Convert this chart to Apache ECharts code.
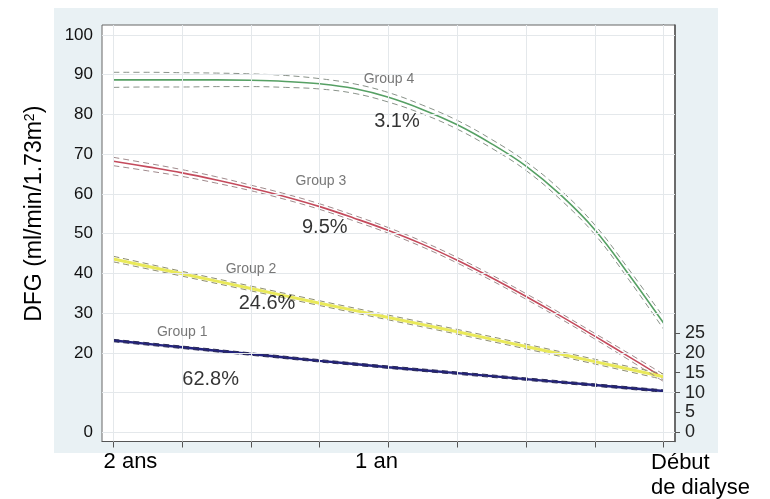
<!DOCTYPE html>
<html>
<head>
<meta charset="utf-8">
<script src="https://cdn.jsdelivr.net/npm/echarts@6/dist/echarts.min.js"></script>
<style>html,body{margin:0;padding:0;background:#fff;}#c{width:770px;height:499px;}</style>
</head>
<body>
<div id="c"></div>
<script>
// ---- data ----
const months = [-24,-22.5,-21,-19.5,-18,-16.5,-15,-13.5,-12,-10.5,-9,-7.5,-6,-4.5,-3,-1.5,0];
const quarterMonths = [-24,-21,-18,-15,-12,-9,-6,-3,0];

const group4 = [88.7,88.7,88.7,88.7,88.6,88.3,87.7,86.5,84.3,81.2,77.4,72.6,67.0,59.8,51.0,39.6,27.5];
const group4Upper = [90.6,90.6,90.5,90.4,90.2,89.8,89.0,87.7,85.5,82.3,78.5,73.7,68.1,61.0,52.2,40.9,29.0];
const group4Lower = [86.8,86.9,86.9,87.0,87.0,86.8,86.4,85.3,83.1,80.1,76.3,71.5,65.9,58.6,49.8,38.3,26.0];

const group3 = [68.2,66.8,65.3,63.5,61.5,59.3,56.8,53.9,50.8,47.3,43.3,38.9,34.2,29.3,24.2,19.0,13.7];
const group3Upper = [69.2,67.7,66.1,64.3,62.2,60.0,57.5,54.6,51.5,48.0,44.0,39.6,34.9,30.0,24.9,19.8,14.6];
const group3Lower = [67.1,65.8,64.4,62.7,60.8,58.6,56.1,53.2,50.1,46.6,42.6,38.2,33.5,28.6,23.5,18.2,12.8];

const group2 = [43.6,39.9,36.2,32.5,28.9,25.3,21.6,17.8,14.0];
const group2Upper = [44.3,40.5,36.8,33.1,29.5,25.9,22.2,18.4,14.7];
const group2Lower = [42.9,39.3,35.6,31.9,28.3,24.7,21.0,17.2,13.3];

const group1 = [23.1,21.4,19.7,18.0,16.4,14.9,13.4,11.9,10.4];
const group1Upper = [23.4,21.7,20.0,18.3,16.7,15.2,13.7,12.2,10.7];
const group1Lower = [22.8,21.1,19.4,17.7,16.1,14.6,13.1,11.6,10.1];

const groupNames = ['Group 4','Group 3','Group 2','Group 1'];
const groupNameX = [-11.98,-14.95,-18.0,-21.0];
const groupNameY = [88.9,63.3,41.0,25.1];
const shareLabels = ['3.1%','9.5%','24.6%','62.8%'];
const shareX = [-11.63,-14.78,-17.3,-19.76];
const shareY = [78.1,51.6,32.4,13.3];

const leftTicks = [0,20,30,40,50,60,70,80,90,100];
const rightTicks = [0,5,10,15,20,25];
const gridY = [0,10,20,30,40,50,60,70,80,90,100];
const xTicks = [-24,-21,-18,-15,-12,-9,-6,-3,0];
const xLabelValues = [-24,-12,0];
const xLabelTexts = {'-24':'{l|2 ans}','-12':'{m|1 an}','0':'{r|Début}\n{r|de dialyse}'};

// ---- chart ----
const FONT = 'Liberation Sans, Arial, sans-serif';
const pair = (xs, ys) => xs.map((x, i) => [x, ys[i]]);
const chart = echarts.init(document.getElementById('c'), null, {renderer: 'canvas'});

function mainLine(name, xs, ys, color, width) {
  return {type: 'line', name, data: pair(xs, ys), showSymbol: false, symbol: 'none',
    smooth: 0.4, lineStyle: {color, width}, z: 3, silent: true, animation: false};
}
function ciLine(name, xs, ys, color) {
  return {type: 'line', name, data: pair(xs, ys), showSymbol: false, symbol: 'none',
    smooth: 0.4, lineStyle: {color, width: 1, type: [6, 4]}, z: 4, silent: true, animation: false};
}

const option = {
  backgroundColor: '#ffffff',
  animation: false,
  graphic: [{type: 'rect', shape: {x: 54, y: 8, width: 664, height: 445}, style: {fill: '#e9f1f4'}, z: -10, silent: true}],
  grid: {left: 102, top: 25, right: 95, bottom: 57, show: true, backgroundColor: '#ffffff',
    borderColor: '#666', borderWidth: 1, containLabel: false},
  xAxis: {
    type: 'value', min: -24.5, max: 0.5,
    axisLine: {show: true, onZero: false, lineStyle: {color: '#555', width: 1}},
    axisTick: {show: true, length: 6, customValues: xTicks, lineStyle: {color: '#555'}},
    axisLabel: {show: true, customValues: xLabelValues, margin: 9, color: '#000',
      fontFamily: FONT, fontSize: 22,
      formatter: v => xLabelTexts[String(v)] || '',
      rich: {
        l: {fontFamily: FONT, fontSize: 22, color: '#000', padding: [0,0,0,34]},
        m: {fontFamily: FONT, fontSize: 22, color: '#000', padding: [0,24,0,0]},
        r: {fontFamily: FONT, fontSize: 22, color: '#000', align: 'left', padding: [0,0,0,74], lineHeight: 25}
      }},
    splitLine: {show: false}
  },
  yAxis: [{
    type: 'value', min: -2.3, max: 102.5, position: 'left',
    name: 'DFG (ml/min/1.73m{sup|2})', nameLocation: 'middle', nameGap: 55, nameRotate: 90,
    nameTextStyle: {fontFamily: FONT, fontSize: 23, color: '#000', padding: [0,0,0,39],
      rich: {sup: {fontFamily: FONT, fontSize: 14, color: '#000', padding: [0,0,10,0]}}},
    axisLine: {show: true, lineStyle: {color: '#555', width: 1}},
    axisTick: {show: true, length: 5, customValues: leftTicks, lineStyle: {color: '#555'}},
    axisLabel: {show: true, customValues: leftTicks, margin: 9, color: '#111', fontFamily: FONT, fontSize: 17},
    splitLine: {show: false}
  }, {
    type: 'value', min: -2.3, max: 102.5, position: 'right',
    axisLine: {show: true, lineStyle: {color: '#555', width: 1.5}},
    axisTick: {show: true, length: 5, customValues: rightTicks, lineStyle: {color: '#555'}},
    axisLabel: {show: true, customValues: rightTicks, margin: 10, color: '#222', fontFamily: FONT, fontSize: 18},
    splitLine: {show: false}
  }],
  series: [
    {type: 'line', name: 'grid', data: [], silent: true, symbol: 'none',
      markLine: {silent: true, symbol: 'none', label: {show: false}, animation: false,
        lineStyle: {color: '#e4e8eb', width: 1, type: 'solid'},
        data: gridY.map(v => ({yAxis: v})).concat(xTicks.map(v => ({xAxis: v})))}},
    mainLine('Group 4', months, group4, '#56a064', 1.6),
    mainLine('Group 3', months, group3, '#c44a5c', 1.6),
    mainLine('Group 2', quarterMonths, group2, '#e9e95a', 3),
    mainLine('Group 1', quarterMonths, group1, '#23237e', 2.4),
    ciLine('G4 up', months, group4Upper, '#8a938a'),
    ciLine('G4 low', months, group4Lower, '#8a938a'),
    ciLine('G3 up', months, group3Upper, '#a08a8c'),
    ciLine('G3 low', months, group3Lower, '#a08a8c'),
    ciLine('G2 up', quarterMonths, group2Upper, '#8f8f70'),
    ciLine('G2 low', quarterMonths, group2Lower, '#8f8f70'),
    ciLine('G1 up', quarterMonths, group1Upper, '#2a2a55'),
    ciLine('G1 low', quarterMonths, group1Lower, '#2a2a55'),
    {type: 'scatter', name: 'names', symbolSize: 0, silent: true, z: 6,
      data: groupNames.map((t, i) => [groupNameX[i], groupNameY[i], t]),
      label: {show: true, position: 'inside', formatter: p => p.data[2],
        fontFamily: FONT, fontSize: 14, color: '#555'}},
    {type: 'scatter', name: 'shares', symbolSize: 0, silent: true, z: 6,
      data: shareLabels.map((t, i) => [shareX[i], shareY[i], t]),
      label: {show: true, position: 'inside', formatter: p => p.data[2],
        fontFamily: FONT, fontSize: 20, color: '#000'}}
  ]
};
chart.setOption(option);
</script>
</body>
</html>
